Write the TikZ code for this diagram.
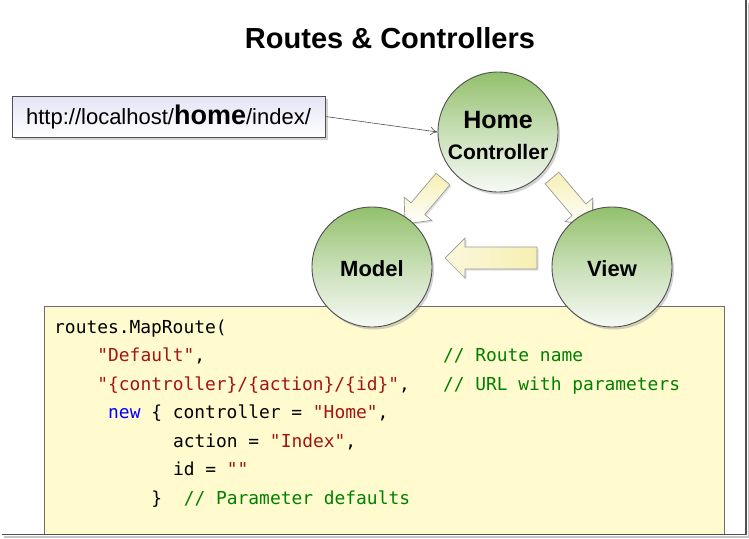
\documentclass[tikz,border=0pt]{standalone}
\usepackage{fontspec}
\setmainfont{Liberation Sans}
\newfontfamily\codefont{DejaVu Sans Mono}
\usetikzlibrary{shadows,arrows.meta}
\definecolor{cgreen}{RGB}{146,192,108}
\definecolor{cwhite}{RGB}{246,249,245}
\definecolor{codebg}{RGB}{255,251,206}
\definecolor{strc}{RGB}{163,21,21}
\definecolor{comc}{RGB}{0,128,0}
\definecolor{kwc}{RGB}{0,0,255}
\definecolor{ayel}{RGB}{246,239,178}
\definecolor{lav}{RGB}{228,228,246}
\definecolor{edge}{RGB}{80,80,80}
\begin{document}
\begin{tikzpicture}[x=1pt,y=-1pt,
  circ/.style={circle, minimum size=120pt, inner sep=0pt, draw=edge, line width=0.9pt,
    top color=cgreen, bottom color=cwhite, middle color=cgreen!45!cwhite,
    drop shadow={shadow xshift=2pt, shadow yshift=-2.5pt, opacity=0.35}},
  circlabel/.style={anchor=base, inner sep=0pt, font=\bfseries\fontsize{22}{24}\selectfont},
  blockarrow/.style={draw=gray!80, line width=0.7pt, line join=miter,
    drop shadow={shadow xshift=1.5pt, shadow yshift=-1.5pt, opacity=0.25}},
  codetext/.style={anchor=base west, inner sep=0pt, font=\codefont\fontsize{17.9}{20}\selectfont},
  urlbox/.style={rectangle, draw=edge, line width=0.8pt, minimum width=313pt, minimum height=41pt,
    inner sep=0pt, top color=lav, bottom color=white, font=\fontsize{22}{24}\selectfont,
    drop shadow={shadow xshift=2.5pt, shadow yshift=-2.5pt, opacity=0.35}},
]
\useasboundingbox (0,0) rectangle (749,538);
\fill[white] (0,0) rectangle (749,538);

% frame
\draw[gray!45, line width=1.2pt] (4,537) -- (748.5,537) -- (748.5,3);
\draw[edge, line width=1.6pt] (2,534.5) -- (746,534.5) -- (746,0);

% title
\node[anchor=base, inner sep=0pt, font=\bfseries\fontsize{29}{32}\selectfont] (title) at (390,48) {Routes \& Controllers};

% code box
\draw[gray!85!black, line width=1pt, fill=codebg] (44,534) -- (44,306) -- (724,306) -- (724,534);
\node[inner sep=0pt] (codebox) at (384,420) {};

% code
\node[codetext] (l1) at (54,333) {routes.MapRoute(};
\node[codetext] (l2) at ({54+4*10.8},361.5) {\color{strc}"Default"\color{black},};
\node[codetext] (c2) at ({54+36*10.8},361.5) {\color{comc}// Route name};
\node[codetext] (l3) at ({54+4*10.8},390) {\color{strc}"\{controller\}/\{action\}/\{id\}"\color{black},};
\node[codetext] (c3) at ({54+36*10.8},390) {\color{comc}// URL with parameters};
\node[codetext] (l4) at ({54+5*10.8},418.5) {\textcolor{kwc}{new} \{ controller = \textcolor{strc}{"Home"},};
\node[codetext] (l5) at ({54+11*10.8},447) {action = \textcolor{strc}{"Index"},};
\node[codetext] (l6) at ({54+11*10.8},475.5) {id = \textcolor{strc}{""}};
\node[codetext] (l7) at ({54+9*10.8},504) {\}};
\node[codetext] (c7) at ({54+12*10.8},504) {\color{comc}// Parameter defaults};

% block arrows
\path[blockarrow, top color=ayel, bottom color=white]
  (449.9,184.8) -- (424.8,214.5) -- (431.7,220.3) -- (405,224) -- (404.1,197.1) -- (411.0,202.9) -- (436.1,173.2) -- cycle;
\path[blockarrow, top color=ayel, bottom color=white]
  (558.9,172.2) -- (585.9,204.0) -- (592.7,198.1) -- (592,225) -- (565.3,221.5) -- (572.1,215.6) -- (545.1,183.8) -- cycle;
\path[blockarrow, left color=ayel!45!white, middle color=white, right color=ayel]
  (537,247) -- (465,247) -- (465,238) -- (445,258) -- (465,278) -- (465,269) -- (537,269) -- cycle;

% circles
\node[circ] (home) at (498,132) {};
\node[circlabel, font=\bfseries\fontsize{25}{27}\selectfont] (homet) at (498,128) {Home};
\node[circlabel, font=\bfseries\fontsize{21}{23}\selectfont] (homec) at (498,159) {Controller};
\node[circ] (model) at (372,267) {};
\node[circlabel] (modelt) at (372,276) {Model};
\node[circ] (view) at (612,267) {};
\node[circlabel] (viewt) at (612,276) {View};

% url box
\node[urlbox] (url) at (168.5,116.5) {http://localhost/{\bfseries\fontsize{27}{30}\selectfont home}/index/};
\draw[-{To[length=7pt,width=8pt]}, line width=0.6pt, edge] (url.east) -- (home.west);
\end{tikzpicture}
\end{document}
